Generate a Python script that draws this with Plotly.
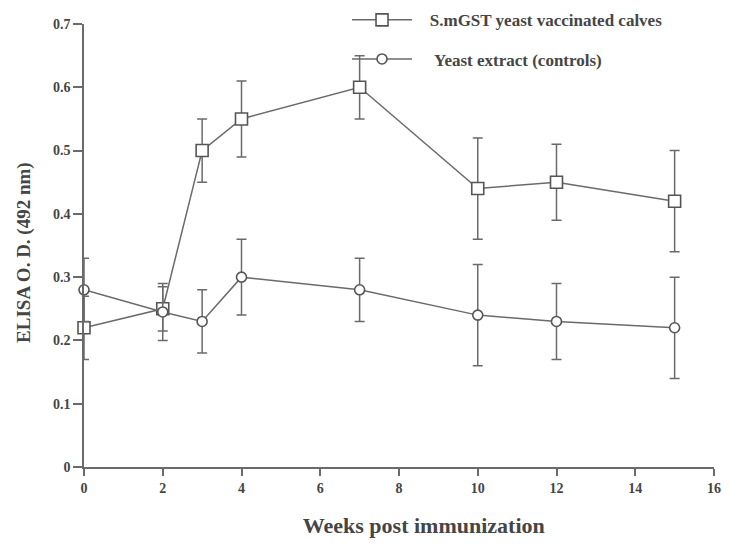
import plotly.graph_objects as go

weeks = [0, 2, 3, 4, 7, 10, 12, 15]
vaccinated = [0.22, 0.25, 0.50, 0.55, 0.60, 0.44, 0.45, 0.42]
vaccinated_err = [0.05, 0.035, 0.05, 0.06, 0.05, 0.08, 0.06, 0.08]
controls = [0.28, 0.245, 0.23, 0.30, 0.28, 0.24, 0.23, 0.22]
controls_err = [0.05, 0.045, 0.05, 0.06, 0.05, 0.08, 0.06, 0.08]

x_ticks = [0, 2, 4, 6, 8, 10, 12, 14, 16]
y_ticks = [0, 0.1, 0.2, 0.3, 0.4, 0.5, 0.6, 0.7]
y_ticktext = ["0", "0.1", "0.2", "0.3", "0.4", "0.5", "0.6", "0.7"]

line_col = "#6a6a6a"
text_col = "#454545"
font_fam = "Liberation Serif, Times New Roman, serif"
sp = "&nbsp;"

fig = go.Figure()
fig.add_trace(go.Scatter(
    x=weeks, y=vaccinated, mode="lines+markers",
    name=sp * 3 + "<b>S.mGST yeast vaccinated calves</b>",
    legendgroup="a",
    line=dict(color=line_col, width=1.5),
    marker=dict(symbol="square", size=12, color="white",
                line=dict(color="#555555", width=1.6)),
    error_y=dict(type="data", array=vaccinated_err, visible=True,
                 color=line_col, thickness=1.5, width=5),
    cliponaxis=False,
))
fig.add_trace(go.Scatter(
    x=weeks, y=controls, mode="lines+markers",
    name=sp * 4 + "<b>Yeast extract (controls)</b>",
    legendgroup="b",
    line=dict(color=line_col, width=1.5),
    marker=dict(symbol="circle", size=10, color="white",
                line=dict(color="#555555", width=1.6)),
    error_y=dict(type="data", array=controls_err, visible=True,
                 color=line_col, thickness=1.5, width=5),
    cliponaxis=False,
))

fig.update_layout(
    width=714, height=533,
    margin=dict(l=76, r=8, t=16, b=74, autoexpand=False),
    paper_bgcolor="white", plot_bgcolor="white",
    font=dict(family=font_fam, color=text_col, size=12),
    showlegend=True,
    legend=dict(x=0.4175, y=1.049, xanchor="left", yanchor="top",
                bgcolor="rgba(0,0,0,0)", itemwidth=60,
                tracegroupgap=14,
                font=dict(family=font_fam, size=17, color=text_col)),
    xaxis=dict(range=[0, 16], tickvals=x_ticks, showgrid=False, zeroline=False,
               automargin=False, ticklabeloverflow="allow",
               showline=True, linecolor=line_col, linewidth=1.5,
               ticks="outside", ticklen=7, tickcolor=line_col, tickwidth=1.5,
               tickfont=dict(family=font_fam, size=14, color=text_col, weight="bold"),
               title=dict(text=sp * 9 + "<b>Weeks post immunization</b>",
                          font=dict(family=font_fam, size=22, color=text_col),
                          standoff=23)),
    yaxis=dict(range=[0, 0.7], tickvals=y_ticks, ticktext=y_ticktext,
               showgrid=False, zeroline=False, automargin=False,
               showline=True, linecolor=line_col, linewidth=1.5,
               ticks="outside", ticklen=9, tickcolor=line_col, tickwidth=1.5,
               tickfont=dict(family=font_fam, size=14, color=text_col, weight="bold"),
               title=dict(text="<b>ELISA O. D. (492 nm)</b>" + sp * 3,
                          font=dict(family=font_fam, size=19, color=text_col),
                          standoff=17)),
)

fig.write_html("out.html")
